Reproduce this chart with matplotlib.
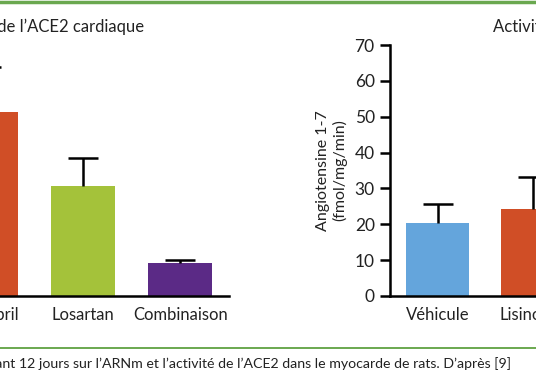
import numpy as np
import matplotlib.pyplot as plt
from matplotlib.lines import Line2D

plt.rcParams['font.family'] = ['Lato', 'DejaVu Sans']

# left panel: ARNm ACE2 (relative, axis is off the picture)
cat_left = ['Véhicule', 'Lisinopril', 'Losartan', 'Combinaison']
val_left = [1.0, 5.14, 3.07, 0.91]
err_left = [0.3, 1.25, 0.77, 0.09]
col_left = ['#64a5dc', '#d04e26', '#a4c23a', '#5b2a86']

# right panel: activité ACE2
cat_right = ['Véhicule', 'Lisinopril', 'Losartan', 'Combinaison']
val_right = [20.4, 24.2, 22.0, 21.0]
err_right = [5.2, 9.0, 5.0, 5.0]
col_right = ['#64a5dc', '#d04e26', '#a4c23a', '#5b2a86']

W, H = 536, 386
fig = plt.figure(figsize=(W / 100, H / 100), dpi=100)

def px(x0, y0, w, h):
    return [x0 / W, 1 - (y0 + h) / H, w / W, h / H]

def draw(ax, cats, vals, errs, cols):
    x = np.arange(len(cats))
    ax.bar(x, vals, width=0.66, color=cols, zorder=2)
    for xi, v, e in zip(x, vals, errs):
        eb = ax.errorbar(xi, v, yerr=[[0], [e]], fmt='none', ecolor='black',
                         elinewidth=1.8, capsize=10.5, capthick=1.8, zorder=3)
        eb[1][0].set_visible(False)  # no cap on the bar top
    ax.set_xticks(x)
    ax.set_xticklabels(cats, fontsize=12, color='#222222')
    ax.tick_params(axis='x', length=0, pad=8)
    ax.set_xlim(-0.5, len(cats) - 0.5)
    for s in ['top', 'right']:
        ax.spines[s].set_visible(False)
    ax.spines['bottom'].set_linewidth(1.8)
    ax.spines['left'].set_linewidth(1.8)

# left axes: 97 px per category, x axis ends at ~228 px
axl = fig.add_axes(px(228.7 - 388, 45, 388, 251))
draw(axl, cat_left, val_left, err_left, col_left)
axl.set_ylim(0, 7)
axl.set_yticks([])

# right axes: spine at 390 px, 95 px per category
axr = fig.add_axes(px(390, 45, 380, 251))
draw(axr, cat_right, val_right, err_right, col_right)
axr.set_ylim(0, 70)
axr.set_yticks(np.arange(0, 71, 10))
axr.tick_params(axis='y', length=7, width=1.8, pad=4, labelsize=12.5,
                labelcolor='#222222')
axr.set_ylabel('Angiotensine 1-7\n(fmol/mg/min)', fontsize=11.5,
               color='#222222', labelpad=5, linespacing=1.2)

fig.text(144 / W, 1 - 27 / H, 'Expression de l’ARNm de l’ACE2 cardiaque',
         ha='right', va='center', fontsize=12, color='#222222')
fig.text(493 / W, 1 - 27 / H, 'Activité de l’ACE2 cardiaque',
         ha='left', va='center', fontsize=12, color='#222222')

fig.text(511 / W, 1 - 364 / H,
         'Figure 2. Effet du lisinopril, du losartan et de leur combinaison '
         'administrés pendant 12 jours sur l’ARNm et l’activité de l’ACE2 '
         'dans le myocarde de rats. D’après [9]',
         ha='right', va='center', fontsize=10.2, color='#222222')

fig.add_artist(Line2D([0, 1], [1 - 1.5 / H, 1 - 1.5 / H],
                      transform=fig.transFigure, color='#6aa84f', lw=2.5))
fig.add_artist(Line2D([0, 1], [1 - 348 / H, 1 - 348 / H],
                      transform=fig.transFigure, color='#6aa84f', lw=1.4))

fig.savefig('out.png', dpi=100)
